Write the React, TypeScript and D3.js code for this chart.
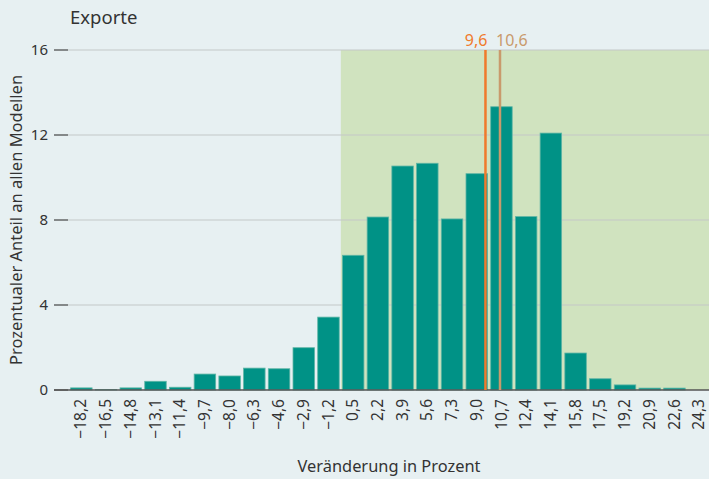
import React from "react";
import * as d3 from "d3";

const categories = [
  "−18,2", "−16,5", "−14,8", "−13,1", "−11,4", "−9,7", "−8,0", "−6,3", "−4,6", "−2,9", "−1,2",
  "0,5", "2,2", "3,9", "5,6", "7,3", "9,0", "10,7", "12,4", "14,1", "15,8", "17,5", "19,2", "20,9", "22,6", "24,3",
];
const binValues = [
  -18.2, -16.5, -14.8, -13.1, -11.4, -9.7, -8.0, -6.3, -4.6, -2.9, -1.2,
  0.5, 2.2, 3.9, 5.6, 7.3, 9.0, 10.7, 12.4, 14.1, 15.8, 17.5, 19.2, 20.9, 22.6, 24.3,
];
const shares = [
  0.1, 0.02, 0.1, 0.41, 0.13, 0.75, 0.66, 1.03, 1.0, 1.99, 3.43,
  6.34, 8.14, 10.54, 10.67, 8.05, 10.18, 13.33, 8.16, 12.09, 1.74, 0.53, 0.24, 0.09, 0.09, 0,
];
const yTicks = [0, 4, 8, 12, 16];
const markers = [
  { value: 9.6, label: "9,6", color: "#f07a2c", anchor: "end" },
  { value: 10.6, label: "10,6", color: "#c99a6c", anchor: "start" },
];
const greenStartCategory = "0,5";

const W = 709;
const H = 479;
const FONT = "'Noto Sans', 'Open Sans', sans-serif";

export default function App() {
  const x = d3
    .scaleBand<string>()
    .domain(categories)
    .range([69, 711.5])
    .paddingInner(0.13)
    .paddingOuter(0.065);
  const y = d3.scaleLinear().domain([0, 16]).range([390, 50]);
  const step = x.step();
  const bw = x.bandwidth();
  const c0 = (x(categories[0]) as number) + bw / 2;
  const xv = d3
    .scaleLinear()
    .domain([binValues[0], binValues[binValues.length - 1]])
    .range([c0, c0 + step * (binValues.length - 1)]);
  const greenX = (x(greenStartCategory) as number) - (step - bw) / 2;

  return (
    <svg
      width={W}
      height={H}
      style={{ position: "absolute", left: 0, top: 0 }}
      fontFamily={FONT}
    >
      <rect x={0} y={0} width={W} height={H} fill="#e7f0f2" />
      <rect x={greenX} y={y(16)} width={W - greenX} height={y(0) - y(16)} fill="#d0e3bf" />
      {yTicks.map((t) => (
        <g key={t}>
          {t !== 0 && (
            <line x1={68} x2={W} y1={y(t)} y2={y(t)} stroke="#c4c8c8" strokeWidth={1.2} />
          )}
          <line x1={54} x2={68} y1={y(t)} y2={y(t)} stroke="#444" strokeWidth={1.2} />
          <text x={48} y={y(t)} dy="0.35em" textAnchor="end" fontSize={15} fill="#333">
            {t}
          </text>
        </g>
      ))}
      {categories.map((c, i) => (
        <rect
          key={c}
          x={x(c)}
          y={y(shares[i])}
          width={bw}
          height={y(0) - y(shares[i])}
          fill="#009286"
          stroke="#5fb5a5"
          strokeWidth={0.8}
        />
      ))}
      <line x1={54} x2={W} y1={y(0)} y2={y(0)} stroke="#555" strokeWidth={1.4} />
      {markers.map((m) => (
        <g key={m.label}>
          <line
            x1={xv(m.value)}
            x2={xv(m.value)}
            y1={y(16)}
            y2={y(0)}
            stroke={m.color}
            strokeWidth={2.5}
          />
          <text
            x={xv(m.value) + (m.anchor === "end" ? 2 : -4)}
            y={46}
            textAnchor={m.anchor}
            fontSize={16}
            fill={m.color}
          >
            {m.label}
          </text>
        </g>
      ))}
      {categories.map((c) => (
        <text
          key={c}
          transform={`translate(${(x(c) as number) + bw / 2},399) rotate(-90)`}
          dy="0.33em"
          textAnchor="end"
          fontSize={15.5}
          fill="#333"
        >
          {c}
        </text>
      ))}
      <text x={70} y={24} fontSize={18.5} fill="#333">
        Exporte
      </text>
      <text
        transform="translate(16,220) rotate(-90)"
        dy="0.35em"
        textAnchor="middle"
        fontSize={16.5}
        fill="#333"
      >
        Prozentualer Anteil an allen Modellen
      </text>
      <text x={389} y={472} textAnchor="middle" fontSize={16.4} fill="#333">
        Veränderung in Prozent
      </text>
    </svg>
  );
}
